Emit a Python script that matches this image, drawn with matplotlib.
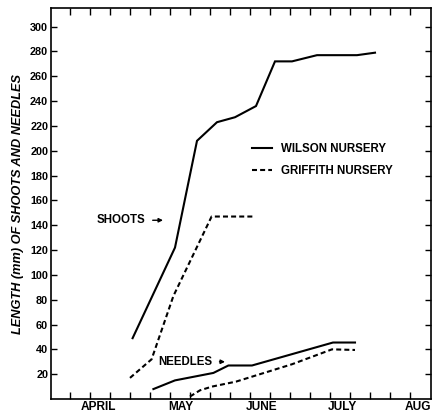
import matplotlib
matplotlib.use("Agg")
import matplotlib.pyplot as plt

plt.rcParams['font.family'] = ['Liberation Sans', 'DejaVu Sans']

# x in weeks (one tick = one week)
wilson_shoots_x = [3.13, 5.25, 6.35, 7.35, 8.25, 9.3, 10.25, 11.1, 12.35, 14.35, 15.25]
wilson_shoots_y = [49, 122, 208, 223, 227, 236, 272, 272, 277, 277, 279]
griffith_shoots_x = [3.0, 4.08, 5.17, 7.08, 9.2]
griffith_shoots_y = [17, 32, 83, 147, 147]
wilson_needles_x = [4.17, 5.25, 7.17, 7.92, 9.1, 13.15, 14.25]
wilson_needles_y = [8, 15, 21, 27, 27, 45.5, 45.5]
griffith_needles_x = [6.0, 6.5, 7.1, 8.3, 9.1, 11.1, 13.1, 14.25]
griffith_needles_y = [2, 7, 10, 14, 18, 28, 40, 39.5]

week_ticks = list(range(0, 18))
month_pos = [1.4, 5.55, 9.6, 13.6, 17.4]
month_labels = ['APRIL', 'MAY', 'JUNE', 'JULY', 'AUG']
y_ticks = list(range(20, 301, 20))

fig = plt.figure(figsize=(4.36, 4.16), dpi=100)
ax = fig.add_axes([51/436, 17/416, 380/436, 391/416])

lw = 1.5
l1, = ax.plot(wilson_shoots_x, wilson_shoots_y, color='black', lw=lw, solid_joinstyle='miter')
l2, = ax.plot(griffith_shoots_x, griffith_shoots_y, color='black', lw=lw, dashes=(2.4, 1.5))
ax.plot(wilson_needles_x, wilson_needles_y, color='black', lw=lw)
ax.plot(griffith_needles_x, griffith_needles_y, color='black', lw=lw, dashes=(2.4, 1.5))

ax.set_xlim(-0.95, 18.05)
ax.set_ylim(0, 315)

ax.set_xticks(week_ticks)
ax.set_xticklabels([])
ax.set_xticks(month_pos, minor=True)
ax.set_xticklabels(month_labels, minor=True, fontsize=8.6, fontweight='bold')
ax.tick_params(axis='x', which='major', direction='in', length=5, width=1, top=True, bottom=True)
ax.tick_params(axis='x', which='minor', length=0, pad=1.5)
ax.set_yticks(y_ticks)
ax.set_yticklabels([str(v) for v in y_ticks], fontsize=7.8, fontweight='bold')
ax.tick_params(axis='y', direction='in', length=4, width=1, left=True, right=True, pad=2)

for s in ax.spines.values():
    s.set_linewidth(1.2)

fig.text(18/436, 1 - 203.5/416, 'LENGTH (mm) OF SHOOTS AND NEEDLES', rotation=90,
         ha='center', va='center', fontsize=9.2, fontweight='bold', fontstyle='italic')

ax.legend([l1, l2], ['WILSON NURSERY', 'GRIFFITH NURSERY'], loc='upper left',
          bbox_to_anchor=(0.529, 0.655), frameon=False, borderpad=0, borderaxespad=0,
          handlelength=1.73, handletextpad=0.78, labelspacing=0.84,
          prop={'size': 8.3, 'weight': 'bold'})

arrow = dict(arrowstyle='-|>', lw=1, color='black', shrinkA=3, shrinkB=0, mutation_scale=6)
ax.annotate('SHOOTS', xy=(4.65, 144), xytext=(1.35, 144), ha='left', va='center',
            fontsize=8.3, fontweight='bold', arrowprops=arrow)
ax.annotate('NEEDLES', xy=(7.75, 30), xytext=(4.42, 30), ha='left', va='center',
            fontsize=8.3, fontweight='bold', arrowprops=arrow)

fig.savefig('out.png', dpi=100)
